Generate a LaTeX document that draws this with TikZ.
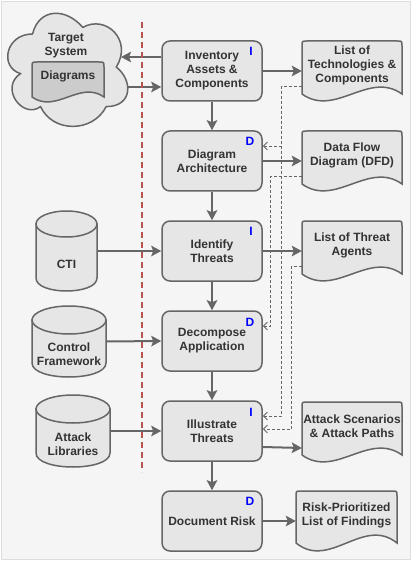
\documentclass[tikz,border=0pt]{standalone}
\usepackage{fontspec}
\setmainfont{Liberation Sans}
\usetikzlibrary{arrows.meta,calc}
\definecolor{bg}{HTML}{F5F5F5}
\definecolor{bd}{HTML}{DDDDDD}
\definecolor{lc}{HTML}{666666}
\definecolor{fl}{HTML}{E6E6E6}
\definecolor{tx}{HTML}{333333}
\definecolor{dk}{HTML}{CCCCCC}
\definecolor{rd}{HTML}{B85450}
\definecolor{bl}{HTML}{0000FF}
\tikzset{
 proc/.style={rectangle, rounded corners=8pt, minimum width=100pt, minimum height=60pt, fill=fl, draw=lc, line width=1.5pt, align=center, text=tx, font=\bfseries\fontsize{12}{14}\selectfont, inner sep=0pt},
 ghost/.style={rectangle, inner sep=0pt, draw=none},
 lbl/.style={align=center, text=tx, font=\bfseries\fontsize{12}{14}\selectfont, inner sep=0pt},
 tag/.style={text=bl, font=\bfseries\fontsize{12}{14}\selectfont, inner sep=0pt},
 shp/.style={fill=fl, draw=lc, line width=1.5pt},
 flow/.style={draw=lc, line width=2pt, -{Stealth[length=10pt,width=10.5pt,inset=2pt]}},
 refl/.style={draw=lc, line width=0.9pt, dash pattern=on 3pt off 2pt, -{Straight Barb[length=4pt,width=8pt]}},
 sepline/.style={draw=rd, line width=2pt, dash pattern=on 6pt off 4pt},
}
% #1 fill, #2 name, #3 x0, #4 y0, #5 w, #6 h, #7 wave, #8 text, #9 text shift
\newcommand{\docsh}[9][fl]{%
 \path[shp, fill=#1] (#3,{#4+#6-#7}) -- (#3,{#4+5}) .. controls (#3,#4) .. ({#3+5},#4) -- ({#3+#5-5},#4) .. controls ({#3+#5},#4) .. ({#3+#5},{#4+5}) -- ({#3+#5},{#4+#6-#7}) .. controls ({#3+2*#5/3},{#4+#6-#7-3.4*#7}) and ({#3+#5/3},{#4+#6-#7+3.4*#7}) .. (#3,{#4+#6-#7}) -- cycle;
 \node[ghost, minimum width=#5pt, minimum height=#6pt] (#2) at ({#3+#5/2},{#4+#6/2}) {};
 \node[lbl] (#2t) at ({#3+#5/2},{#4+#6/2-#9}) {#8};
}
% #1 name, #2 cx, #3 cy, #4 w, #5 h, #6 ry, #7 text
\newcommand{\cyl}[7]{%
 \path[shp] ({#2-#4/2},{#3-#5/2+#6}) -- ({#2-#4/2},{#3+#5/2-#6}) .. controls ({#2-#4/2},{#3+#5/2-#6+1.333*#6}) and ({#2+#4/2},{#3+#5/2-#6+1.333*#6}) .. ({#2+#4/2},{#3+#5/2-#6}) -- ({#2+#4/2},{#3-#5/2+#6}) -- cycle;
 \path[shp] (#2,{#3-#5/2+#6}) ellipse [x radius={#4/2}, y radius={#6}];
 \node[ghost, minimum width=#4pt, minimum height=#5pt] (#1) at (#2,#3) {};
 \node[lbl] (#1t) at (#2,{#3+13}) {#7};
}
\begin{document}
\begin{tikzpicture}[x=1pt,y=-1pt]
\useasboundingbox (0,0) rectangle (412,561);
\path[fill=bg, draw=bd, line width=1pt] (1.5,1.5) rectangle (410.5,559.5);

% cloud
\begin{scope}[shift={(-1,1)}, x=134pt, y=-132pt]
\path[shp] (0.25,0.25) .. controls (0.05,0.25) and (0,0.5) .. (0.16,0.55) .. controls (0,0.66) and (0.18,0.9) .. (0.31,0.8) .. controls (0.4,1) and (0.7,1) .. (0.8,0.8) .. controls (1,0.8) and (1,0.6) .. (0.875,0.5) .. controls (1,0.3) and (0.8,0.1) .. (0.625,0.2) .. controls (0.5,0.05) and (0.3,0.05) .. (0.25,0.25) -- cycle;
\end{scope}
\node[lbl] (cloudt) at (66,46) {Target\\System};
\docsh[dk]{diag}{32}{62}{72}{40}{5}{Diagrams}{6}

% process boxes
\node[proc] (inv) at (212,71) {Inventory\\Assets \&\\Components};
\node[proc] (arch) at (212,161) {Diagram\\Architecture};
\node[proc] (ident) at (212,251) {Identify\\Threats};
\node[proc] (decomp) at (212,341) {Decompose\\Application};
\node[proc] (illus) at (212,431) {Illustrate\\Threats};
\node[proc] (docr) at (212,521) {Document Risk};

\node[tag] (tag1) at (251,51) {I};
\node[tag] (tag2) at (250,141) {D};
\node[tag] (tag3) at (251,231) {I};
\node[tag] (tag4) at (250,322) {D};
\node[tag] (tag5) at (251,412) {I};
\node[tag] (tag6) at (250,501) {D};

% documents
\docsh{tech}{302}{41}{100}{60}{7}{List of\\Technologies \&\\Components}{6}
\docsh{dfd}{302}{131}{100}{60}{7}{Data Flow\\Diagram (DFD)}{6}
\docsh{agents}{302}{221}{100}{60}{7}{List of Threat\\Agents}{6}
\docsh{scen}{302}{402}{100}{60}{7}{Attack Scenarios\\\& Attack Paths}{6}
\docsh{risk}{296}{491}{101}{60}{8}{Risk-Prioritized\\List of Findings}{6}

% cylinders
\cyl{cti}{66.5}{251}{61}{80}{13}{CTI}
\cyl{ctrl}{69}{341.5}{74}{71}{14}{Control\\Framework}
\cyl{alib}{73}{431}{74}{72}{14}{Attack\\Libraries}

% main flow
\draw[flow] (inv) -- (arch);
\draw[flow] (arch) -- (ident);
\draw[flow] (ident) -- (decomp);
\draw[flow] (decomp) -- (illus);
\draw[flow] (illus) -- (docr);

\draw[flow] (inv) -- (tech);
\draw[flow] (arch) -- (dfd);
\draw[flow] (ident) -- (agents);
\draw[flow] ([yshift=-16pt]illus.east) -- ([yshift=-16pt]scen.west);
\draw[flow] (docr) -- (risk);

\draw[flow] (cti) -- (ident);
\draw[flow] (ctrl.east) -- (decomp.west);
\draw[flow] (alib) -- (illus);

\coordinate (cin) at (121,57);
\coordinate (cout) at (127,87);
\draw[flow] ([yshift=14pt]inv.west) -- (cin);
\draw[flow] (cout) -- ([yshift=-16pt]inv.west);

% dashed references
\draw[refl] ([yshift=-15pt]tech.west) -- ++(-20,0) |- ([yshift=15pt]arch.east);
\draw[refl] ([yshift=-15pt]tech.west) -- ++(-20,0) |- ([yshift=15pt]illus.east);
\draw[refl] ([yshift=-15pt]dfd.west) -- ++(-31,0) |- ([yshift=15pt]decomp.east);
\draw[refl] ([yshift=-15pt]agents.west) -- ++(-10,0) |- ([yshift=2pt]illus.east);

% separator
\coordinate (s1) at (142,22);
\coordinate (s2) at (142,472);
\draw[sepline] (s1) -- (s2);
\end{tikzpicture}
\end{document}
